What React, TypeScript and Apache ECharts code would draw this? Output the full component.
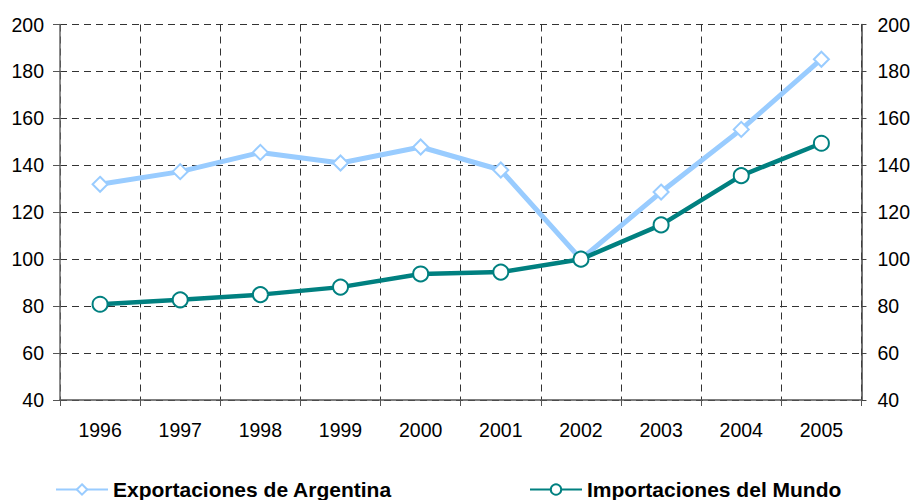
import React, { useEffect, useRef } from "react";
import * as echarts from "echarts";

const years = ["1996", "1997", "1998", "1999", "2000", "2001", "2002", "2003", "2004", "2005"];
const exportaciones = [131.9, 137.3, 145.5, 141, 147.8, 138, 100, 128.6, 155.3, 185.2];
const importaciones = [80.8, 82.7, 84.9, 88.1, 93.7, 94.5, 100, 114.6, 135.6, 149.4];
const yMin = 40;
const yMax = 200;
const yStep = 20;

export default function App() {
  const ref = useRef<HTMLDivElement>(null);
  useEffect(() => {
    if (!ref.current) return;
    const chart = echarts.init(ref.current, null, { renderer: "svg" });
    const font = "'Liberation Sans', Arial, sans-serif";
    const yAxisCommon = {
      type: "value" as const,
      min: yMin,
      max: yMax,
      interval: yStep,
      axisLine: { show: true, lineStyle: { color: "#666", width: 1.5 } },
      axisTick: { show: true, length: 7, lineStyle: { color: "#555" } },
      axisLabel: { color: "#000", fontSize: 19.5, fontFamily: font, margin: 16 },
    };
    const legendText = { color: "#000", fontSize: 21, fontWeight: "bold" as const, fontFamily: font };
    chart.setOption({
      animation: false,
      backgroundColor: "#fff",
      grid: { left: 60, right: 51, top: 24.5, bottom: 100, containLabel: false },
      xAxis: {
        type: "category",
        data: years,
        boundaryGap: true,
        axisLine: { show: true, lineStyle: { color: "#555", width: 1.5 } },
        axisTick: { show: true, length: 6, lineStyle: { color: "#555" } },
        axisLabel: { color: "#000", fontSize: 19.5, fontFamily: font, margin: 20 },
        splitLine: { show: true, lineStyle: { color: "#333", type: [7, 5], width: 1 } },
      },
      yAxis: [
        {
          ...yAxisCommon,
          position: "left",
          splitLine: { show: true, lineStyle: { color: "#333", type: [7, 5], width: 1 } },
        },
        {
          ...yAxisCommon,
          position: "right",
          axisLine: { show: true, lineStyle: { color: "#444", width: 1.5 } },
          axisTick: { show: true, length: 5, lineStyle: { color: "#444" } },
          splitLine: { show: false },
        },
      ],
      legend: [
        {
          data: ["Exportaciones de Argentina"],
          left: 55,
          top: 479,
          padding: 0,
          itemWidth: 52,
          itemHeight: 13,
          itemGap: 3,
          textStyle: legendText,
        },
        {
          data: ["Importaciones del Mundo"],
          left: 529,
          top: 479,
          padding: 0,
          itemWidth: 52,
          itemHeight: 13,
          itemGap: 3,
          textStyle: legendText,
        },
      ],
      series: [
        {
          name: "Exportaciones de Argentina",
          type: "line",
          data: exportaciones,
          symbol: "diamond",
          symbolSize: 15,
          lineStyle: { color: "#99CCFF", width: 5 },
          itemStyle: { color: "#fff", borderColor: "#99CCFF", borderWidth: 2 },
          z: 2,
        },
        {
          name: "Importaciones del Mundo",
          type: "line",
          data: importaciones,
          symbol: "circle",
          symbolSize: 15,
          lineStyle: { color: "#008080", width: 4.5 },
          itemStyle: { color: "#fff", borderColor: "#008080", borderWidth: 2 },
          z: 3,
        },
      ],
    });
    return () => chart.dispose();
  }, []);
  return <div ref={ref} style={{ width: 913, height: 500, position: "absolute", left: 0, top: 0 }} />;
}
